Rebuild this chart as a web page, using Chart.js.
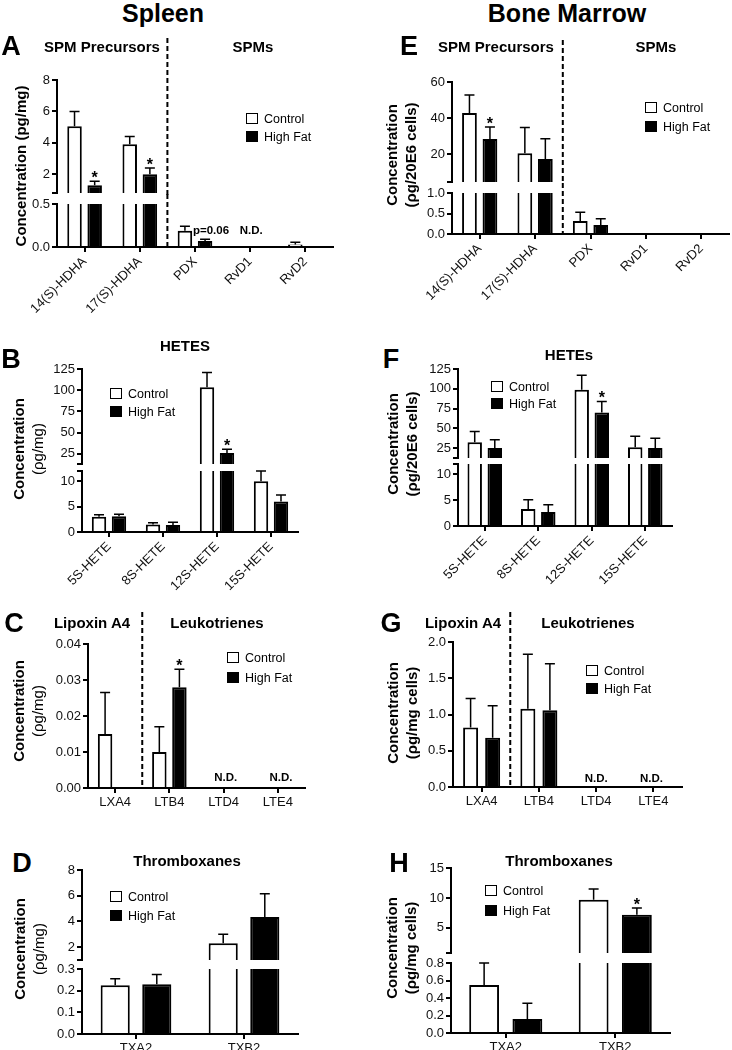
<!DOCTYPE html>
<html>
<head>
<meta charset="utf-8">
<script src="https://cdn.jsdelivr.net/npm/chart.js@4.4.0/dist/chart.umd.min.js"></script>
<style>
  body { margin: 0; background: #fff; }
  #fig { position: relative; width: 732px; height: 1050px; overflow: hidden; font-family: "Liberation Sans", Arial, sans-serif; color: #000; }
  canvas { position: absolute; }
  .t { position: absolute; transform: translate(-50%, -50%); white-space: nowrap; font-weight: bold; }
  .big { font-size: 25px; }
  .letter { font-size: 27px; }
  .hdr { font-size: 15px; }
  .yt { position: absolute; transform: translate(-50%, -50%) rotate(-90deg); white-space: nowrap; font-size: 15px; font-weight: bold; text-align: center; line-height: 19px; }
  .yt .n { font-weight: normal; }
  .leg { position: absolute; font-size: 12.5px; white-space: nowrap; transform: translateY(-50%); line-height: 14px; }
  .leg i { display: inline-block; width: 10px; height: 9px; border: 1.6px solid #000; vertical-align: -1px; margin-right: 6px; }
</style>
</head>
<body>
<div id="fig"></div>
<script>
// categories
const spmCats = ['14(S)-HDHA', '17(S)-HDHA', 'PDX', 'RvD1', 'RvD2'];
const heteCats = ['5S-HETE', '8S-HETE', '12S-HETE', '15S-HETE'];
const lipoCats = ['LXA4', 'LTB4', 'LTD4', 'LTE4'];
const txCats = ['TXA2', 'TXB2'];
const seriesNames = ['Control', 'High Fat'];

// spleen values (mean, SEM)
const spleenSpmCtrl = [5.05, 3.9, 0.19, null, 0.03];
const spleenSpmCtrlErr = [0.95, 0.5, 0.05, 0, 0.025];
const spleenSpmHf = [1.3, 2.0, 0.07, null, null];
const spleenSpmHfErr = [0.25, 0.4, 0.02, 0, 0];
const spleenSpmStars = [true, true, false, false, false];

const spleenHeteCtrl = [3.0, 1.5, 103.5, 10];
const spleenHeteCtrlErr = [0.4, 0.3, 17.5, 2];
const spleenHeteHf = [3.1, 1.4, 26, 6.0];
const spleenHeteHfErr = [0.4, 0.5, 4.5, 1.3];
const spleenHeteStars = [false, false, true, false];

const spleenLipoCtrl = [0.015, 0.010, null, null];
const spleenLipoCtrlErr = [0.0115, 0.007, 0, 0];
const spleenLipoHf = [null, 0.028, null, null];
const spleenLipoHfErr = [0, 0.005, 0, 0];
const spleenLipoStars = [false, true, false, false];

const spleenTxCtrl = [0.225, 2.3];
const spleenTxCtrlErr = [0.03, 0.7];
const spleenTxHf = [0.23, 4.35];
const spleenTxHfErr = [0.045, 1.8];

// bone marrow values (mean, SEM)
const marrowSpmCtrl = [42.8, 20.5, 0.32, null, null];
const marrowSpmCtrlErr = [10, 14.2, 0.21, 0, 0];
const marrowSpmHf = [28.3, 17.3, 0.22, null, null];
const marrowSpmHfErr = [6.7, 11.2, 0.15, 0, 0];
const marrowSpmStars = [true, false, false, false, false];

const marrowHeteCtrl = [32.5, 3.3, 98.7, 26];
const marrowHeteCtrlErr = [13.5, 1.8, 18.3, 14];
const marrowHeteHf = [25, 2.7, 70, 25];
const marrowHeteHfErr = [10.5, 1.4, 14, 12.5];
const marrowHeteStars = [false, false, true, false];

const marrowLipoCtrl = [0.82, 1.08, null, null];
const marrowLipoCtrlErr = [0.4, 0.75, 0, 0];
const marrowLipoHf = [0.68, 1.06, null, null];
const marrowLipoHfErr = [0.44, 0.64, 0, 0];

const marrowTxCtrl = [0.55, 9.7];
const marrowTxCtrlErr = [0.25, 1.8];
const marrowTxHf = [0.16, 7.2];
const marrowTxHfErr = [0.18, 1.1];
const marrowTxStars = [false, true];

// y tick values and labels (upper / lower parts of broken axes)
const ticksA = [[0.8, 2, 4, 6, 8], [0, 0.5]];
const labelsA = [['', '2', '4', '6', '8'], ['0.0', '0.5']];
const ticksB = [[13, 25, 50, 75, 100, 125], [0, 5, 10, 12]];
const labelsB = [['', '25', '50', '75', '100', '125'], ['0', '5', '10', '']];
const ticksC = [0, 0.01, 0.02, 0.03, 0.04];
const labelsC = ['0.00', '0.01', '0.02', '0.03', '0.04'];
const ticksD = [[1, 2, 4, 6, 8], [0, 0.1, 0.2, 0.3]];
const labelsD = [['', '2', '4', '6', '8'], ['0.0', '0.1', '0.2', '0.3']];
const ticksE = [[4.5, 20, 40, 60], [0, 0.5, 1]];
const labelsE = [['', '20', '40', '60'], ['0.0', '0.5', '1.0']];
const ticksF = [[12.5, 25, 50, 75, 100, 125], [0, 5, 10, 12]];
const labelsF = [['', '25', '50', '75', '100', '125'], ['0', '5', '10', '']];
const ticksG = [0, 0.5, 1, 1.5, 2];
const labelsG = ['0.0', '0.5', '1.0', '1.5', '2.0'];
const ticksH = [[0.8, 5, 10, 15], [0, 0.2, 0.4, 0.6, 0.8]];
const labelsH = [['', '5', '10', '15'], ['0.0', '0.2', '0.4', '0.6', '0.8']];

Chart.defaults.font.family = '"Liberation Sans", Arial, sans-serif';
Chart.defaults.font.size = 13;
Chart.defaults.color = '#111';

const fig = document.getElementById('fig');
const YW = 44;

// error bars, stars, dashed divider and small notes
function extras(p, s) {
    return {
        id: 'extras',
        afterDatasetsDraw(chart) {
            const { ctx, chartArea: a } = chart;
            const xs = chart.scales.x, ys = chart.scales.y;
            ctx.save();
            ctx.strokeStyle = '#000';
            ctx.fillStyle = '#000';
            ctx.lineWidth = 1.5;
            if (p.split != null) {
                const sx = (xs.getPixelForValue(p.split) + xs.getPixelForValue(p.split + 1)) / 2;
                ctx.lineWidth = 2;
                ctx.setLineDash([5, 3]);
                ctx.beginPath();
                ctx.moveTo(sx, 0);
                ctx.lineTo(sx, s.showX ? a.bottom : a.bottom + 2);
                ctx.stroke();
                ctx.setLineDash([]);
                ctx.lineWidth = 1.5;
            }
            // lower edge of an upper part is excluded so caps sitting on the break are drawn once
            const clipBottom = s.showX ? a.bottom : a.bottom - 2;
            ctx.save();
            ctx.beginPath();
            ctx.rect(a.left, a.top - 3, a.right - a.left, clipBottom - a.top + 3);
            ctx.clip();
            [p.ctrlErr, p.hfErr].forEach((errs, di) => {
                const vals = di ? p.hf : p.ctrl;
                const meta = chart.getDatasetMeta(di);
                vals.forEach((v, i) => {
                    if (v == null || !errs[i]) return;
                    const bx = meta.data[i].x;
                    const y1 = ys.getPixelForValue(v);
                    const y2 = ys.getPixelForValue(v + errs[i]);
                    ctx.beginPath();
                    ctx.moveTo(bx, y1);
                    ctx.lineTo(bx, y2);
                    ctx.moveTo(bx - 5, y2);
                    ctx.lineTo(bx + 5, y2);
                    ctx.stroke();
                });
            });
            ctx.restore();
            if (p.stars) {
                const meta = chart.getDatasetMeta(1);
                ctx.font = 'bold 16px "Liberation Sans", Arial';
                ctx.textAlign = 'center';
                ctx.textBaseline = 'alphabetic';
                p.stars.forEach((st, i) => {
                    if (!st) return;
                    const y2 = ys.getPixelForValue(p.hf[i] + p.hfErr[i]);
                    if (y2 < a.top - 3 || y2 > clipBottom) return;
                    ctx.fillText('*', meta.data[i].x, y2 + 2);
                });
            }
            (s.notes || []).forEach(n => {
                ctx.font = 'bold 11.5px "Liberation Sans", Arial';
                ctx.textAlign = 'center';
                ctx.textBaseline = 'middle';
                ctx.fillText(n.text, xs.getPixelForValue(n.i) + n.dx, ys.getPixelForValue(n.v));
            });
            ctx.restore();
        }
    };
}

function segment(p, s) {
    const showX = !!s.showX;
    const xh = showX ? (p.rotate ? 74 : 24) : 0;
    const cTop = s.canvasTop ?? s.top - 10;
    const cBottom = showX ? s.bottom + xh : s.bottom + 10;
    const W = p.x1 - p.x0 + YW + 6;
    const H = cBottom - cTop;
    const cv = document.createElement('canvas');
    cv.width = W;
    cv.height = H;
    cv.style.left = (p.x0 - YW) + 'px';
    cv.style.top = cTop + 'px';
    cv.style.width = W + 'px';
    cv.style.height = H + 'px';
    fig.appendChild(cv);

    const axisGrid = { display: true, offset: false, drawOnChartArea: false, drawTicks: true, tickLength: 5, color: '#000', lineWidth: 2 };
    const axisBorder = { display: true, color: '#000', width: 2 };
    const rot = p.rotate ? 45 : 0;

    new Chart(cv, {
        type: 'bar',
        data: {
            labels: p.cats,
            datasets: [
                { label: seriesNames[0], data: p.ctrl, backgroundColor: '#fff', borderColor: '#000', borderWidth: 2, categoryPercentage: p.cp, barPercentage: p.bp, clip: 0 },
                { label: seriesNames[1], data: p.hf, backgroundColor: '#000', borderColor: '#000', borderWidth: 2, categoryPercentage: p.cp, barPercentage: p.bp, clip: 0 }
            ]
        },
        options: {
            responsive: false,
            animation: false,
            devicePixelRatio: 1,
            layout: { padding: { top: s.top - cTop, bottom: showX ? 0 : 10, left: 0, right: 6 } },
            plugins: { legend: { display: false }, tooltip: { enabled: false } },
            scales: {
                x: {
                    display: showX,
                    offset: true,
                    grid: axisGrid,
                    border: axisBorder,
                    ticks: { autoSkip: false, minRotation: rot, maxRotation: rot, padding: 2, color: '#111' },
                    afterFit: sc => { sc.height = xh; }
                },
                y: {
                    min: s.min,
                    max: s.max,
                    grid: axisGrid,
                    border: axisBorder,
                    ticks: { autoSkip: false, padding: 2, color: '#111', callback: (v, i) => s.text[i] },
                    afterBuildTicks: sc => { sc.ticks = s.ticks.map(v => ({ value: v })); },
                    afterFit: sc => { sc.width = YW; }
                }
            }
        },
        plugins: [extras(p, s)]
    });
}

const panels = [
    { cats: spmCats, ctrl: spleenSpmCtrl, ctrlErr: spleenSpmCtrlErr, hf: spleenSpmHf, hfErr: spleenSpmHfErr, stars: spleenSpmStars,
      x0: 57, x1: 333, cp: 0.73, bp: 0.72, split: 1, rotate: true,
      segs: [
        { top: 80, bottom: 193, min: 0.8, max: 8, ticks: ticksA[0], text: labelsA[0], canvasTop: 38 },
        { top: 204, bottom: 247, min: 0, max: 0.5, ticks: ticksA[1], text: labelsA[1], showX: true,
          notes: [{ i: 2, dx: 16, v: 0.19, text: 'p=0.06' }, { i: 3, dx: 1, v: 0.19, text: 'N.D.' }] }
      ] },
    { cats: heteCats, ctrl: spleenHeteCtrl, ctrlErr: spleenHeteCtrlErr, hf: spleenHeteHf, hfErr: spleenHeteHfErr, stars: spleenHeteStars,
      x0: 82, x1: 298, cp: 0.74, bp: 0.72, rotate: true,
      segs: [
        { top: 369, bottom: 464, min: 13, max: 125, ticks: ticksB[0], text: labelsB[0] },
        { top: 471, bottom: 532, min: 0, max: 12, ticks: ticksB[1], text: labelsB[1], showX: true }
      ] },
    { cats: lipoCats, ctrl: spleenLipoCtrl, ctrlErr: spleenLipoCtrlErr, hf: spleenLipoHf, hfErr: spleenLipoHfErr, stars: spleenLipoStars,
      x0: 88, x1: 305, cp: 0.74, bp: 0.72, split: 0,
      segs: [
        { top: 644, bottom: 788, min: 0, max: 0.04, ticks: ticksC, text: labelsC, showX: true, canvasTop: 612,
          notes: [{ i: 2, dx: 2, v: 0.0028, text: 'N.D.' }, { i: 3, dx: 3, v: 0.0028, text: 'N.D.' }] }
      ] },
    { cats: txCats, ctrl: spleenTxCtrl, ctrlErr: spleenTxCtrlErr, hf: spleenTxHf, hfErr: spleenTxHfErr,
      x0: 82, x1: 298, cp: 0.77, bp: 0.7,
      segs: [
        { top: 870, bottom: 960, min: 1, max: 8, ticks: ticksD[0], text: labelsD[0] },
        { top: 969, bottom: 1034, min: 0, max: 0.3, ticks: ticksD[1], text: labelsD[1], showX: true }
      ] },
    { cats: spmCats, ctrl: marrowSpmCtrl, ctrlErr: marrowSpmCtrlErr, hf: marrowSpmHf, hfErr: marrowSpmHfErr, stars: marrowSpmStars,
      x0: 452, x1: 729, cp: 0.74, bp: 0.72, split: 1, rotate: true,
      segs: [
        { top: 82, bottom: 182, min: 4.5, max: 60, ticks: ticksE[0], text: labelsE[0], canvasTop: 40 },
        { top: 193, bottom: 234, min: 0, max: 1, ticks: ticksE[1], text: labelsE[1], showX: true }
      ] },
    { cats: heteCats, ctrl: marrowHeteCtrl, ctrlErr: marrowHeteCtrlErr, hf: marrowHeteHf, hfErr: marrowHeteHfErr, stars: marrowHeteStars,
      x0: 458, x1: 672, cp: 0.75, bp: 0.72, rotate: true,
      segs: [
        { top: 369, bottom: 458, min: 12.5, max: 125, ticks: ticksF[0], text: labelsF[0] },
        { top: 464, bottom: 526, min: 0, max: 12, ticks: ticksF[1], text: labelsF[1], showX: true }
      ] },
    { cats: lipoCats, ctrl: marrowLipoCtrl, ctrlErr: marrowLipoCtrlErr, hf: marrowLipoHf, hfErr: marrowLipoHfErr,
      x0: 453, x1: 682, cp: 0.77, bp: 0.68, split: 0,
      segs: [
        { top: 642, bottom: 787, min: 0, max: 2, ticks: ticksG, text: labelsG, showX: true, canvasTop: 612,
          notes: [{ i: 2, dx: 0, v: 0.11, text: 'N.D.' }, { i: 3, dx: -2, v: 0.11, text: 'N.D.' }] }
      ] },
    { cats: txCats, ctrl: marrowTxCtrl, ctrlErr: marrowTxCtrlErr, hf: marrowTxHf, hfErr: marrowTxHfErr, stars: marrowTxStars,
      x0: 451, x1: 670, cp: 0.79, bp: 0.69,
      segs: [
        { top: 868, bottom: 953, min: 0.8, max: 15, ticks: ticksH[0], text: labelsH[0] },
        { top: 963, bottom: 1033, min: 0, max: 0.8, ticks: ticksH[1], text: labelsH[1], showX: true }
      ] }
];

panels.forEach(p => p.segs.forEach(s => segment(p, s)));

// text around the charts
function addText(cls, html, x, y) {
    const d = document.createElement('div');
    d.className = cls;
    d.innerHTML = html;
    d.style.left = x + 'px';
    d.style.top = y + 'px';
    fig.appendChild(d);
}
function addLegend(x, y1, y2) {
    addText('leg', '<i style="background:#fff"></i>' + seriesNames[0], x, y1);
    addText('leg', '<i style="background:#000"></i>' + seriesNames[1], x, y2);
}

addText('t big', 'Spleen', 163, 13);
addText('t big', 'Bone Marrow', 567, 13);

addText('t letter', 'A', 11, 46);
addText('t letter', 'B', 11, 359);
addText('t letter', 'C', 14, 623);
addText('t letter', 'D', 22, 863);
addText('t letter', 'E', 409, 46);
addText('t letter', 'F', 391, 359);
addText('t letter', 'G', 391, 623);
addText('t letter', 'H', 399, 863);

addText('t hdr', 'SPM Precursors', 102, 46);
addText('t hdr', 'SPMs', 253, 46);
addText('t hdr', 'HETES', 185, 345);
addText('t hdr', 'Lipoxin A4', 92, 622);
addText('t hdr', 'Leukotrienes', 217, 622);
addText('t hdr', 'Thromboxanes', 187, 860);
addText('t hdr', 'SPM Precursors', 496, 46);
addText('t hdr', 'SPMs', 656, 46);
addText('t hdr', 'HETEs', 569, 354);
addText('t hdr', 'Lipoxin A4', 463, 622);
addText('t hdr', 'Leukotrienes', 588, 622);
addText('t hdr', 'Thromboxanes', 559, 860);

addText('yt', 'Concentration (pg/mg)', 20, 166);
addText('yt', 'Concentration<br><span class="n">(ρg/mg)</span>', 28, 449);
addText('yt', 'Concentration<br><span class="n">(ρg/mg)</span>', 28, 711);
addText('yt', 'Concentration<br><span class="n">(ρg/mg)</span>', 29, 949);
addText('yt', 'Concentration<br>(ρg/20E6 cells)', 401, 155);
addText('yt', 'Concentration<br>(ρg/20E6 cells)', 402, 444);
addText('yt', 'Concentration<br>(ρg/mg cells)', 402, 713);
addText('yt', 'Concentration<br>(ρg/mg cells)', 401, 948);

addLegend(246, 119, 137);
addLegend(110, 394, 412);
addLegend(227, 658, 678);
addLegend(110, 897, 916);
addLegend(645, 108, 127);
addLegend(491, 387, 404);
addLegend(586, 671, 689);
addLegend(485, 891, 911);
</script>
</body>
</html>
